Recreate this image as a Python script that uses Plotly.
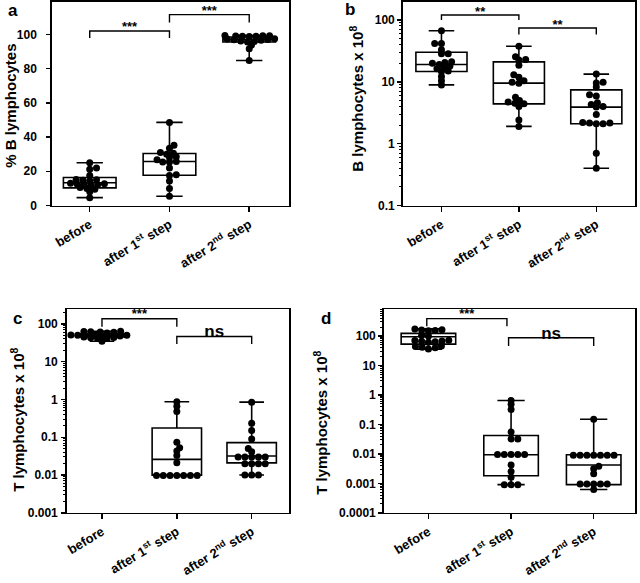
import math
import plotly.graph_objects as go

W, H = 640, 583

# ---------------- data ----------------
categories = ["before", "after 1<sup>st</sup> step", "after 2<sup>nd</sup> step"]

# panel a: % B lymphocytes
a_before = [4.6, 8.0, 9.5, 10.0, 10.5, 11.8, 12.2, 12.4, 12.5, 12.7, 13.0, 14.5, 14.8, 15.0, 15.2, 17.5, 21.2, 22.0, 25.0]
a_after1 = [5.4, 10.0, 14.3, 17.5, 18.0, 22.0, 25.5, 25.5, 25.8, 26.8, 28.0, 28.5, 30.0, 30.6, 31.0, 33.5, 35.2, 48.6]
a_after2 = [84.8, 91.7, 93.8, 95.6, 95.9, 96.6, 96.9, 97.1, 97.3, 97.5, 98.9, 99.0, 99.1, 99.2, 99.3, 99.4, 98.8, 96.2]
a_q1 = [10.3, 17.7, 95.6]
a_median = [13.3, 25.7, 97.0]
a_q3 = [16.4, 30.4, 98.5]

# panel b: B lymphocytes x 10^8
b_before = [8.9, 10.4, 12.2, 14.6, 15.0, 16.3, 17.0, 18.0, 19.0, 20.0, 20.5, 21.0, 28.4, 28.4, 33.0, 41.4, 41.4, 67.0]
b_after1 = [1.9, 2.4, 4.0, 4.4, 4.5, 4.7, 5.0, 5.6, 9.5, 9.8, 10.4, 11.8, 13.0, 18.5, 22.5, 23.0, 25.5, 37.5]
b_after2 = [0.4, 0.7, 2.1, 2.1, 2.15, 2.15, 2.2, 2.95, 3.9, 4.0, 4.3, 4.6, 5.9, 6.2, 8.2, 9.6, 9.8, 13.3]
b_q1 = [14.7, 4.4, 2.1]
b_median = [19.0, 9.5, 3.9]
b_q3 = [30.0, 21.0, 7.4]

# panel c: T lymphocytes x 10^8
c_before = [35, 41, 42, 43, 44, 45, 48, 49, 50, 50, 51, 52, 58, 60, 61, 62, 63, 64]
c_after1 = [0.0097, 0.0097, 0.0097, 0.0097, 0.0097, 0.0097, 0.0097, 0.021, 0.033, 0.043, 0.053, 0.074, 0.48, 0.66, 0.87]
c_after2 = [0.01, 0.01, 0.01, 0.02, 0.02, 0.02, 0.02, 0.03, 0.03, 0.03, 0.03, 0.03, 0.041, 0.05, 0.09, 0.15, 0.235, 0.85]
c_q1 = [45.0, 0.0099, 0.021]
c_median = [50.0, 0.026, 0.032]
c_q3 = [55.0, 0.175, 0.072]

# panel d: T lymphocytes x 10^8
d_before = [36, 40, 42, 44, 46, 62, 64, 66, 68, 70, 72, 100, 107, 150, 155, 160, 165, 175]
d_after1 = [0.0009, 0.0009, 0.0009, 0.0016, 0.0025, 0.0042, 0.0095, 0.0095, 0.0095, 0.0095, 0.0095, 0.032, 0.032, 0.055, 0.32, 0.48, 0.65]
d_after2 = [0.00062, 0.00095, 0.00095, 0.00095, 0.00095, 0.00095, 0.0021, 0.0031, 0.0038, 0.009, 0.009, 0.009, 0.009, 0.009, 0.009, 0.009, 0.15]
d_q1 = [53.0, 0.0018, 0.0009]
d_median = [95.0, 0.0093, 0.0042]
d_q3 = [123.0, 0.042, 0.0093]

a_yticks = [0, 20, 40, 60, 80, 100]
b_yticks = [0.1, 1, 10, 100]
c_yticks = [0.001, 0.01, 0.1, 1, 10, 100]
d_yticks = [0.0001, 0.001, 0.01, 0.1, 1, 10, 100]

# ---------------- layout geometry ----------------
panels = [
    dict(key="a", groups=[a_before, a_after1, a_after2], q1=a_q1, med=a_median, q3=a_q3,
         px=(50, 288), py=(2, 208), xr=(-0.475, 2.5), yr=(0, 119), log=False, ticks=a_yticks,
         minor=False, standoff=7,
         title="% B lymphocytes", tpos=(9, 107), letter=(11, 11),
         brackets=[(0, 1, 98, 102, "***", 103.8, 13), (1, 2, 107, 111.6, "***", 113.3, 13)]),
    dict(key="b", groups=[b_before, b_after1, b_after2], q1=b_q1, med=b_median, q3=b_q3,
         px=(402, 635), py=(2, 208), xr=(-0.5, 2.5), yr=(-1, 2.29), log=True, ticks=b_yticks,
         minor=True, standoff=0,
         title="B lymphocytes x 10<sup>8</sup>", tpos=(356, 100), letter=(349, 10),
         brackets=[(0, 1, 100, 120, "**", 132, 13), (1, 2, 58, 74, "**", 80, 13)]),
    dict(key="c", groups=[c_before, c_after1, c_after2], q1=c_q1, med=c_median, q3=c_q3,
         px=(65, 288), py=(313, 519), xr=(-0.47, 2.5), yr=(-3, 2.39), log=True, ticks=c_yticks,
         minor=True, standoff=1,
         title="T lymphocytes x 10<sup>8</sup>", tpos=(16, 425), letter=(16, 322),
         brackets=[(0, 1, 85, 138, "***", 180, 13), (1, 2, 29.5, 46.5, "ns", 58, 17)]),
    dict(key="d", groups=[d_before, d_after1, d_after2], q1=d_q1, med=d_median, q3=d_q3,
         px=(383, 635), py=(313, 519), xr=(-0.54, 2.5), yr=(-4, 2.91), log=True, ticks=d_yticks,
         minor=True, standoff=0,
         title="T lymphocytes x 10<sup>8</sup>", tpos=(320, 428), letter=(325, 322),
         brackets=[(-0.02, 0.95, 216, 389, "***", 520, 13), (0.97, 2, 46, 87, "ns", 108, 17)]),
]

DOT = 7.0      # marker diameter, px
DH = 6.8       # horizontal spacing of dots in a row, px
DV = 3.8       # vertical distance at which dots may stack, px
FONT = "Liberation Sans, Arial, sans-serif"


def fmt(v):
    return ("%.4f" % v).rstrip("0").rstrip(".")


def swarm(vals, to_px):
    ys = [to_px(v) for v in vals]
    order = sorted(range(len(vals)), key=lambda i: -ys[i])
    placed = []
    offs = [0.0] * len(vals)
    step = DH / 12.0
    flip = 1
    for i in order:
        y = ys[i]
        k = 0
        best = None
        while best is None:
            cands = [0.0] if k == 0 else [flip * k * step, -flip * k * step]
            for c in cands:
                if all(((c - px) / DH) ** 2 + ((y - py) / DV) ** 2 >= 0.98 for px, py in placed):
                    best = c
                    break
            k += 1
        if best != 0:
            flip = -flip
        offs[i] = best
        placed.append((best, y))
    return offs


fig = go.Figure()
layout = dict(width=W, height=H, margin=dict(l=0, r=0, t=0, b=0), autosize=False,
              paper_bgcolor="white", plot_bgcolor="white", showlegend=False,
              font=dict(family=FONT, color="black"), hovermode=False)
annotations = []

for n, p in enumerate(panels):
    sfx = "" if n == 0 else str(n + 1)
    xa, ya = "x" + sfx, "y" + sfx
    x0p, x1p = p["px"]
    y0p, y1p = p["py"]
    xdom = [x0p / W, x1p / W]
    ydom = [1 - y1p / H, 1 - y0p / H]
    px_per_cat = (x1p - x0p) / (p["xr"][1] - p["xr"][0])
    ppu = (y1p - y0p) / (p["yr"][1] - p["yr"][0])
    if p["log"]:
        to_px = lambda v, ppu=ppu: -math.log10(v) * ppu
    else:
        to_px = lambda v, ppu=ppu: -v * ppu

    lows = [min(g) for g in p["groups"]]
    highs = [max(g) for g in p["groups"]]
    fig.add_trace(go.Box(x=[0, 1, 2], q1=p["q1"], median=p["med"], q3=p["q3"],
                         lowerfence=lows, upperfence=highs, width=0.66, whiskerwidth=0.5,
                         fillcolor="rgba(0,0,0,0)", line=dict(color="black", width=1.6),
                         boxpoints=False, xaxis=xa, yaxis=ya, hoverinfo="skip"))
    for ci, g in enumerate(p["groups"]):
        offs = swarm(g, to_px)
        fig.add_trace(go.Scatter(x=[ci + o / px_per_cat for o in offs], y=g, mode="markers",
                                 marker=dict(color="black", size=DOT, line=dict(width=0)),
                                 xaxis=xa, yaxis=ya, hoverinfo="skip", cliponaxis=False))
    for (bx0, bx1, ylo, yhi, txt, ty, fs) in p["brackets"]:
        fig.add_trace(go.Scatter(x=[bx0, bx0, bx1, bx1], y=[ylo, yhi, yhi, ylo], mode="lines",
                                 line=dict(color="black", width=1.4), xaxis=xa, yaxis=ya,
                                 hoverinfo="skip", cliponaxis=False))
        fig.add_trace(go.Scatter(x=[(bx0 + bx1) / 2], y=[ty], mode="text", text=[txt],
                                 textfont=dict(family=FONT, size=fs, color="black", weight="bold"),
                                 xaxis=xa, yaxis=ya, hoverinfo="skip", cliponaxis=False))

    axis_common = dict(showline=True, linecolor="black", linewidth=1.6, mirror=True,
                       ticks="outside", tickcolor="black", tickwidth=1.5, showgrid=False,
                       zeroline=False)
    layout["xaxis" + sfx] = dict(axis_common, domain=xdom, anchor=ya, range=list(p["xr"]),
                                 tickvals=[0, 1, 2], ticktext=categories, ticklen=5,
                                 tickangle=-31,
                                 tickfont=dict(family=FONT, size=13, weight="bold"))
    yax = dict(axis_common, domain=ydom, anchor=xa, range=list(p["yr"]), ticklen=4,
               tickvals=p["ticks"], ticktext=[fmt(t) for t in p["ticks"]],
               ticklabelstandoff=p["standoff"],
               tickfont=dict(family=FONT, size=12, weight="bold"))
    if p["log"]:
        yax["type"] = "log"
    if p["minor"]:
        yax["minor"] = dict(ticks="outside", ticklen=2.5, tickwidth=1, tickcolor="black",
                            dtick="D1", showgrid=False)
    layout["yaxis" + sfx] = yax

    annotations.append(dict(text=p["title"], x=p["tpos"][0] / W, y=1 - p["tpos"][1] / H,
                            xref="paper", yref="paper", showarrow=False, textangle=-90,
                            xanchor="center", yanchor="middle",
                            font=dict(family=FONT, size=15, weight="bold")))
    annotations.append(dict(text=p["key"], x=p["letter"][0] / W, y=1 - p["letter"][1] / H,
                            xref="paper", yref="paper", showarrow=False,
                            xanchor="center", yanchor="middle",
                            font=dict(family=FONT, size=17, weight="bold")))

layout["annotations"] = annotations
fig.update_layout(**layout)
fig.write_html("out.html", config={"displayModeBar": False, "staticPlot": True},
               post_script="document.body.style.margin='0px';"
                           "document.body.style.padding='0px';"
                           "document.documentElement.style.overflow='hidden';"
                           "document.body.style.overflow='hidden';")
